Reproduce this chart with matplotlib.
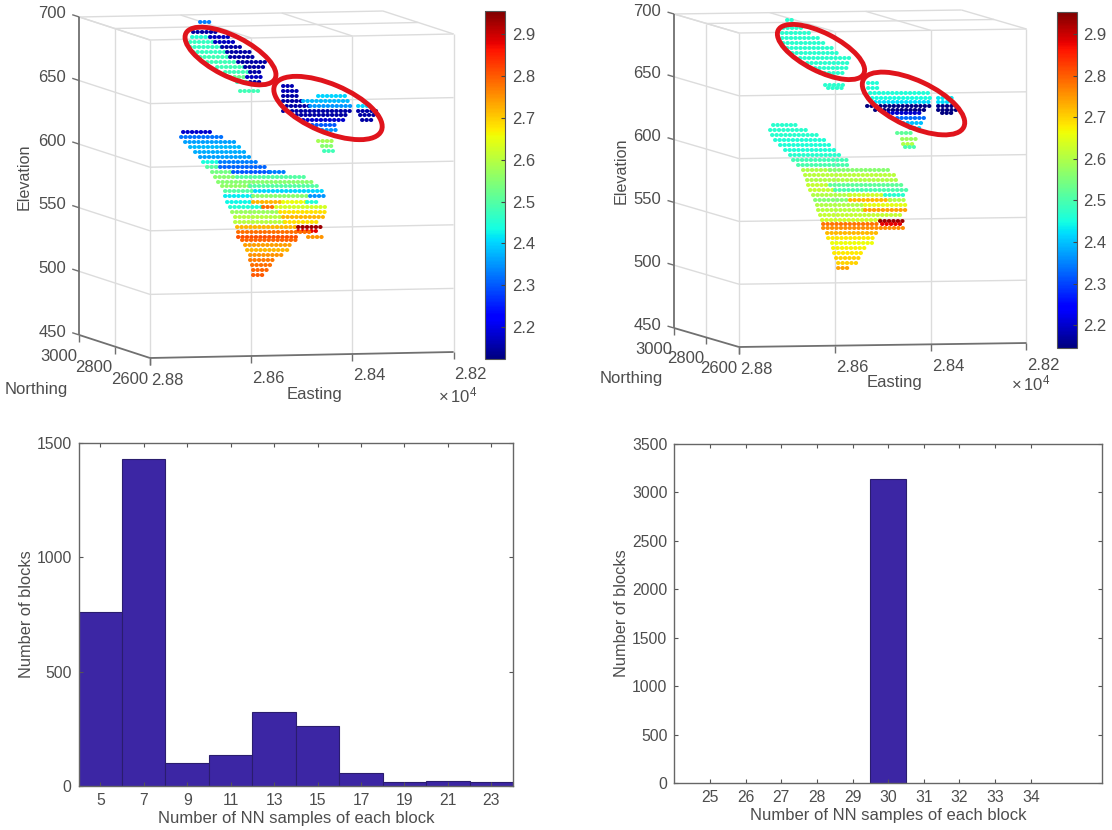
import matplotlib
matplotlib.use('Agg')
import matplotlib.pyplot as plt
from matplotlib.colors import Normalize
from matplotlib.cm import ScalarMappable
from matplotlib.patches import Ellipse

plt.rcParams['font.family'] = ['Liberation Sans', 'DejaVu Sans']
plt.rcParams['mathtext.default'] = 'regular'

# histogram values
left_bins = [5, 7, 9, 11, 13, 15, 17, 19, 21, 23]
left_counts = [762, 1432, 102, 135, 325, 264, 58, 19, 23, 19]
right_bins = [30]
right_counts = [3138]
right_ticks = [25, 26, 27, 28, 29, 30, 31, 32, 33, 34]

# block rows: elevation, easting start/end (x1e4), value
left_z = [714, 706.5, 702.6, 702.6, 698.7, 698.7, 694.7, 694.7, 690.8, 690.8, 686.9, 686.9,
          682.9, 682.9, 679, 679, 675, 675, 671, 671, 667, 667, 660,
          664, 660, 656, 656, 652, 652, 648, 648, 648, 644, 644, 641, 641, 637, 637, 633, 629,
          620.6, 617, 613,
          628, 624, 620, 616, 612, 608, 604, 604, 600, 600, 596, 596, 596, 592, 592, 588,
          585, 585, 581, 581, 577, 577, 577, 573, 573, 573, 573, 569, 569, 569,
          565, 565, 561, 561, 557, 557, 553, 553, 550, 549, 545, 545, 543, 539, 535, 531, 527, 523, 519, 515]
left_start = [2.8701, 2.8715, 2.8717, 2.8682, 2.8721, 2.8672, 2.8721, 2.8658, 2.8715, 2.8648, 2.8701, 2.8642,
              2.8687, 2.8626, 2.8668, 2.8612, 2.8652, 2.8603, 2.8642, 2.8608, 2.8628, 2.8603, 2.8622,
              2.8537, 2.8537, 2.8537, 2.8468, 2.8537, 2.8497, 2.8539, 2.8484, 2.8389, 2.8537, 2.8389, 2.8520, 2.8385, 2.8497, 2.8381, 2.8480, 2.8460,
              2.8468, 2.8460, 2.8456,
              2.8735, 2.8739, 2.8731, 2.8721, 2.8711, 2.8701, 2.8695, 2.8661, 2.8687, 2.8661, 2.8677, 2.8636, 2.8563, 2.8672, 2.8628, 2.8666,
              2.8658, 2.8603, 2.8652, 2.8592, 2.8652, 2.8596, 2.8484, 2.8648, 2.8596, 2.8537, 2.8490, 2.8642, 2.8576, 2.8550,
              2.8638, 2.8543, 2.8632, 2.8537, 2.8632, 2.8534, 2.8628, 2.8508, 2.8508, 2.8626, 2.8626, 2.8488, 2.8619, 2.8612, 2.8608, 2.8603, 2.8603, 2.8599, 2.8596, 2.8596]
left_end = [2.8682, 2.8668, 2.8682, 2.8645, 2.8672, 2.8632, 2.8658, 2.8622, 2.8648, 2.8599, 2.8642, 2.8596,
            2.8626, 2.8569, 2.8612, 2.8569, 2.8603, 2.8576, 2.8608, 2.8578, 2.8603, 2.8578, 2.8583,
            2.8520, 2.8509, 2.8504, 2.8409, 2.8497, 2.8405, 2.8484, 2.8401, 2.8371, 2.8405, 2.8345, 2.8411, 2.8345, 2.8414, 2.8356, 2.8430, 2.8428,
            2.8435, 2.8439, 2.8439,
            2.8675, 2.8652, 2.8632, 2.8619, 2.8612, 2.8603, 2.8661, 2.8587, 2.8661, 2.8573, 2.8636, 2.8563, 2.8533, 2.8628, 2.8492, 2.8478,
            2.8603, 2.8468, 2.8592, 2.8460, 2.8596, 2.8484, 2.8454, 2.8596, 2.8537, 2.8490, 2.8464, 2.8576, 2.8550, 2.8454,
            2.8543, 2.8454, 2.8537, 2.8458, 2.8534, 2.8468, 2.8508, 2.8458, 2.8472, 2.8484, 2.8508, 2.8458, 2.8509, 2.8518, 2.8527, 2.8539, 2.8550, 2.8557, 2.8567, 2.8576]
left_val = [2.33, 2.15, 2.45, 2.17, 2.47, 2.17, 2.47, 2.15, 2.47, 2.15, 2.48, 2.15,
            2.48, 2.15, 2.48, 2.15, 2.48, 2.15, 2.52, 2.17, 2.47, 2.15, 2.48,
            2.16, 2.16, 2.15, 2.40, 2.15, 2.38, 2.15, 2.35, 2.40, 2.15, 2.15, 2.15, 2.15, 2.18, 2.15, 2.30, 2.35,
            2.58, 2.55, 2.48,
            2.18, 2.32, 2.36, 2.38, 2.37, 2.36, 2.44, 2.33, 2.50, 2.31, 2.53, 2.30, 2.33, 2.55, 2.50, 2.55,
            2.56, 2.50, 2.50, 2.40, 2.42, 2.55, 2.35, 2.43, 2.72, 2.65, 2.45, 2.45, 2.78, 2.63,
            2.57, 2.68, 2.60, 2.72, 2.60, 2.68, 2.72, 2.93, 2.88, 2.78, 2.81, 2.75, 2.79, 2.74, 2.72, 2.75, 2.77, 2.78, 2.79, 2.80]

# same for the right 3d plot
right_z = [710, 704, 700, 696, 692, 688, 684, 680, 676, 672, 668, 658.6, 656,
           660, 656, 652, 648, 648, 645, 645, 642, 642, 639, 639, 636, 636, 632, 628, 624.4,
           620, 616, 612, 609,
           626.7, 622.8, 618.8, 614.8, 610.8, 606.8, 602.9, 598.9, 594.9, 590.9, 590.9, 586.9, 583,
           579, 579, 575, 575, 571, 571, 571, 567, 567, 567, 563, 563, 559, 559, 555, 551, 550,
           548, 548, 545, 545, 541, 537, 533, 529, 525, 521, 517, 513]
right_start = [2.8700, 2.8708, 2.8710, 2.8710, 2.8708, 2.8700, 2.8689, 2.8673, 2.8658, 2.8642, 2.8631, 2.8621, 2.8614,
               2.8531, 2.8531, 2.8527, 2.8522, 2.8384, 2.8516, 2.8384, 2.8532, 2.8384, 2.8516, 2.8384, 2.8489, 2.8376, 2.8470, 2.8458, 2.8443,
               2.8470, 2.8459, 2.8458, 2.8454,
               2.8729, 2.8735, 2.8731, 2.8725, 2.8715, 2.8704, 2.8694, 2.8687, 2.8677, 2.8666, 2.8610, 2.8662, 2.8658,
               2.8656, 2.8610, 2.8652, 2.8600, 2.8645, 2.8569, 2.8495, 2.8642, 2.8569, 2.8485, 2.8637, 2.8537, 2.8635, 2.8537, 2.8631, 2.8627, 2.8506,
               2.8625, 2.8501, 2.8625, 2.8495, 2.8616, 2.8614, 2.8606, 2.8604, 2.8602, 2.8598, 2.8593, 2.8593]
right_end = [2.8687, 2.8666, 2.8647, 2.8631, 2.8621, 2.8606, 2.8593, 2.8564, 2.8569, 2.8572, 2.8583, 2.8583, 2.8579,
             2.8512, 2.8510, 2.8402, 2.8402, 2.8355, 2.8402, 2.8349, 2.8402, 2.8343, 2.8405, 2.8343, 2.8416, 2.8353, 2.8412, 2.8416, 2.8422,
             2.8437, 2.8431, 2.8431, 2.8435,
             2.8679, 2.8656, 2.8637, 2.8621, 2.8606, 2.8593, 2.8583, 2.8572, 2.8569, 2.8610, 2.8489, 2.8475, 2.8464,
             2.8610, 2.8458, 2.8600, 2.8449, 2.8569, 2.8495, 2.8449, 2.8569, 2.8485, 2.8449, 2.8537, 2.8449, 2.8537, 2.8449, 2.8458, 2.8499, 2.8458,
             2.8506, 2.8458, 2.8499, 2.8458, 2.8510, 2.8516, 2.8522, 2.8531, 2.8537, 2.8543, 2.8553, 2.8572]
right_val = [2.47, 2.47, 2.47, 2.47, 2.47, 2.47, 2.47, 2.47, 2.47, 2.47, 2.47, 2.47, 2.47,
             2.46, 2.46, 2.46, 2.45, 2.43, 2.42, 2.42, 2.13, 2.15, 2.14, 2.14, 2.20, 2.13, 2.33, 2.40, 2.42,
             2.52, 2.58, 2.60, 2.50,
             2.47, 2.47, 2.47, 2.46, 2.46, 2.46, 2.47, 2.49, 2.50, 2.60, 2.56, 2.61, 2.60,
             2.62, 2.52, 2.62, 2.50, 2.60, 2.63, 2.47, 2.56, 2.72, 2.60, 2.60, 2.65, 2.61, 2.74, 2.62, 2.63, 2.93,
             2.78, 2.88, 2.76, 2.76, 2.72, 2.68, 2.66, 2.67, 2.68, 2.70, 2.70, 2.74]

# colour ranges of the two colorbars
left_clim = [2.124, 2.955]
right_clim = [2.145, 2.953]
cbar_ticks = [2.2, 2.3, 2.4, 2.5, 2.6, 2.7, 2.8, 2.9]

# axis ticks of the 3d plots
east_ticks = [2.88, 2.86, 2.84, 2.82]
north_ticks = [2600, 2800, 3000]
elev_ticks = [450, 500, 550, 600, 650, 700]

W, H = 1112, 830
TXT = '#4d4d4d'
GRID = '#dcdcdc'
EDGE = '#707070'
BAR = '#3c26a4'
FS = 12

fig = plt.figure(figsize=(W / 100, H / 100), dpi=100)


def px_axes(l, t, r, b):
    return fig.add_axes([l / W, 1 - b / H, (r - l) / W, (b - t) / H])


def box3d(l, t, r, b, shift_px, rise_px, tilt_px, zs, starts, ends, vals, clim, cbar_box, north_xy, east_xy, exp_xy, elev_xy):
    ax = px_axes(l, t, r, b)
    ax.set_xlim(2.88, 2.82)
    ax.set_ylim(450, 700)
    ax.axis('off')
    e_per_px = 0.06 / (r - l)
    z_per_px = 250 / (b - t)

    # oblique view of (easting, northing, elevation) onto the front plane
    def proj(e, n, z):
        f = (n - 2600) / 400
        return e + f * shift_px * e_per_px, z + f * rise_px * z_per_px + (2.88 - e) / 0.06 * tilt_px * z_per_px

    def seg(p, q, color=GRID, lw=1.0):
        xa, ya = proj(*p)
        xb, yb = proj(*q)
        ax.plot([xa, xb], [ya, yb], color=color, lw=lw, clip_on=False, solid_capstyle='butt')

    for e in east_ticks:
        seg((e, 2600, 450), (e, 2600, 700))
        seg((e, 2600, 700), (e, 3000, 700))
    for z in elev_ticks[1:]:
        seg((2.88, 2600, z), (2.82, 2600, z))
        seg((2.88, 3000, z), (2.88, 2600, z))
    for n in north_ticks[1:]:
        seg((2.88, n, 700), (2.82, n, 700))
    seg((2.88, 2800, 450), (2.88, 2800, 700))
    seg((2.88, 3000, 450), (2.88, 3000, 700), EDGE, 1.3)
    seg((2.88, 2600, 450), (2.82, 2600, 450), EDGE, 1.3)
    seg((2.88, 2600, 450), (2.88, 3000, 450), EDGE, 1.3)

    # ticks
    for z in elev_ticks:
        seg((2.88, 3000, z), (2.88, 3040, z), EDGE, 1.0)
    for e in east_ticks:
        seg((e, 2600, 450), (e, 2600, 450 - 7 * z_per_px), EDGE, 1.0)
    for n in north_ticks:
        seg((2.88, n, 450), (2.88, n, 450 - 7 * z_per_px), EDGE, 1.0)

    def lab(xy, text, dx, dy, ha):
        ax.annotate(text, xy=xy, xytext=(dx * 0.72, -dy * 0.72), textcoords='offset points',
                    ha=ha, va='center', fontsize=FS, color=TXT, annotation_clip=False)

    for z in elev_ticks:
        lab(proj(2.88, 3000, z), str(z), -13, -3, 'right')
    for e in east_ticks:
        lab(proj(e, 2600, 450), '%.2f' % e, 1, 22, 'left')
    for n in north_ticks:
        lab(proj(2.88, n, 450), str(n), -2, 21, 'right')

    # block rows, dotted so each row reads as a line of blocks
    cmap = plt.get_cmap('jet')
    norm = Normalize(clim[0], clim[1])
    for z, e0, e1, v in zip(zs, starts, ends, vals, strict=True):
        ax.plot([e0, e1], [z, z], color=cmap(norm(v)), lw=2.9, clip_on=False,
                linestyle=(0, (0.1, 1.0)), dash_capstyle='round')

    # colorbar
    cax = px_axes(*cbar_box)
    cb = fig.colorbar(ScalarMappable(norm, cmap), cax=cax, ticks=cbar_ticks)
    cb.ax.tick_params(labelsize=FS, labelcolor=TXT, color='#444444', length=3, width=0.8, direction='in', pad=5)
    cb.outline.set_edgecolor('#555555')
    cb.outline.set_linewidth(0.8)
    cb.ax.set_yticklabels(['%.1f' % t for t in cbar_ticks])

    over.text(*north_xy, 'Northing', ha='center', va='center', fontsize=FS, color=TXT)
    over.text(*east_xy, 'Easting', ha='center', va='center', fontsize=FS, color=TXT)
    over.text(*exp_xy, r'$\times\,10^{4}$', ha='center', va='center', fontsize=FS, color=TXT)
    over.text(*elev_xy, 'Elevation', ha='center', va='center', rotation=90, fontsize=11.6, color=TXT)


def histo(box, bins, counts, width, xlim, ylim, yticks, xticks, ypad):
    ax = px_axes(*box)
    ax.bar(bins, counts, width=width, color=BAR, edgecolor='#2a1d6e', linewidth=0.8)
    ax.set_xlim(*xlim)
    ax.set_ylim(*ylim)
    ax.set_xticks(xticks)
    ax.set_yticks(yticks)
    ax.tick_params(direction='in', length=3, width=0.8, top=True, right=True, labelsize=11.3, labelcolor=TXT, color='#555555', pad=5)
    for s in ax.spines.values():
        s.set_color('#666666')
        s.set_linewidth(1.0)
    ax.set_xlabel('Number of NN samples of each block', fontsize=FS, color=TXT, labelpad=2)
    ax.set_ylabel('Number of blocks', fontsize=11.8, color=TXT, labelpad=ypad)


# overlay in image pixels for free labels and the red rings
over = fig.add_axes([0, 0, 1, 1], zorder=5)
over.set_xlim(0, W)
over.set_ylim(H, 0)
over.axis('off')
over.patch.set_alpha(0)

box3d(150, 40, 453.6, 358, 70.7, 23, 6, left_z, left_start, left_end, left_val, left_clim,
      (485, 11, 505, 359), (36, 389), (314, 394), (458, 395), (24, 177))
box3d(739, 33, 1026.5, 347, 65, 19, 4, right_z, right_start, right_end, right_val, right_clim,
      (1057, 12, 1076.5, 348), (631, 378), (894.5, 382), (1031, 383), (621.6, 171))

for c, w, h, a in [((230.5, 56), 100, 40, 27), ((328, 108), 116, 48, 23),
                   ((821, 52), 96, 38, 27), ((913.5, 103.5), 111, 46, 25)]:
    over.add_patch(Ellipse(c, w, h, angle=a, fill=False, edgecolor='#e0141c', lw=3.5))

histo((78.6, 443, 513, 786), left_bins, left_counts, 2, (4, 24), (0, 1500), [0, 500, 1000, 1500], left_bins, 2)
histo((674.4, 444, 1102, 783), right_bins, right_counts, 1, (24, 36), (0, 3500),
      [0, 500, 1000, 1500, 2000, 2500, 3000, 3500], right_ticks, 2)

fig.savefig('out.png', dpi=100)
